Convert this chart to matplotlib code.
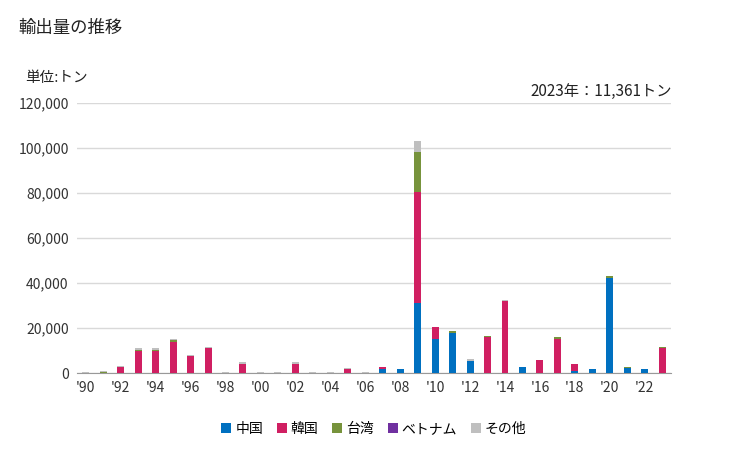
import matplotlib
matplotlib.use("Agg")
import matplotlib.pyplot as plt
import numpy as np

plt.rcParams["font.family"] = ["Noto Sans CJK JP", "DejaVu Sans"]

years = list(range(1990, 2024))
china = [0, 0, 0, 0, 0, 0, 0, 0, 0, 0, 0, 0, 0, 0, 0, 0, 0,
         2000, 1600, 31000, 15300, 17900, 5500, 0, 0, 2800, 0, 0,
         1000, 1600, 42400, 2400, 1600, 0]
korea = [0, 0, 2700, 9900, 9900, 14000, 7600, 11300, 0, 4200, 0, 0, 4200,
         0, 0, 1900, 0, 500, 0, 49600, 5300, 0, 0, 16100, 32100, 0, 5900,
         15300, 3100, 300, 0, 0, 0, 10900]
taiwan = [0, 600, 0, 450, 450, 450, 0, 0, 0, 0, 0, 0, 0, 0, 0, 0, 0,
          0, 0, 17800, 0, 600, 0, 450, 0, 0, 0, 550, 0, 0, 550, 450, 300, 461]
vietnam = [0] * 34
other = [500, 300, 600, 600, 600, 450, 600, 450, 500, 600, 500, 500, 600,
         500, 500, 450, 500, 300, 300, 4900, 0, 0, 600, 0, 450, 0, 0, 0,
         0, 0, 0, 0, 0, 0]

series = [("中国", china, "#0070C0"), ("韓国", korea, "#D01F62"),
          ("台湾", taiwan, "#77933C"), ("ベトナム", vietnam, "#7030A0"),
          ("その他", other, "#BFBFBF")]

fig = plt.figure(figsize=(7.29, 4.5), dpi=100)
ax = fig.add_axes([0.1056, 0.1711, 0.8148, 0.6])

bottom = np.zeros(len(years))
for name, vals, col in series:
    ax.bar(years, vals, width=0.4, bottom=bottom, color=col, label=name, zorder=3)
    bottom += np.array(vals)

ax.set_xlim(1989.5, 2023.5)
ax.set_ylim(0, 120000)
ax.set_yticks(range(0, 120001, 20000))
ax.set_yticklabels([f"{v:,}" for v in range(0, 120001, 20000)])
ax.set_xticks(range(1990, 2023, 2))
ax.set_xticklabels([f"'{y % 100:02d}" for y in range(1990, 2023, 2)])
ax.tick_params(length=0, labelsize=10, colors="#333333", pad=6)
ax.grid(axis="y", color="#d9d9d9", linewidth=1, zorder=0)
for s in ["top", "right", "left"]:
    ax.spines[s].set_visible(False)
ax.spines["bottom"].set_color("#999999")

fig.text(0.025, 0.938, "輸出量の推移", fontsize=12.5, color="#222222", va="center")
fig.text(0.035, 0.826, "単位:トン", fontsize=10.5, color="#222222", va="center")
fig.text(0.922, 0.796, "2023年：11,361トン", fontsize=11, color="#222222",
         ha="right", va="center")

ax.legend(loc="upper center", bbox_to_anchor=(0.5, -0.135), ncol=5, frameon=False,
          fontsize=10, handlelength=0.7, handleheight=0.7, handletextpad=0.3,
          columnspacing=1.0)

plt.savefig("out.png", dpi=100)
